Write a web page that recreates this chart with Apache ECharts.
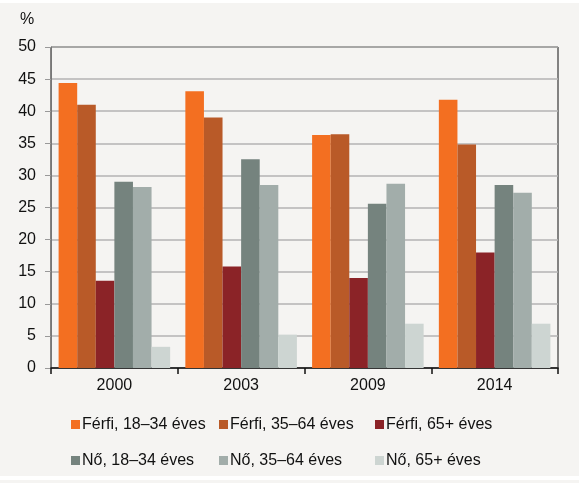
<!DOCTYPE html>
<html>
<head>
<meta charset="utf-8">
<script src="https://cdn.jsdelivr.net/npm/echarts@6/dist/echarts.min.js"></script>
<style>html,body{margin:0;padding:0;background:#f5f4f2;}#c{width:579px;height:483px;}</style>
</head>
<body>
<div id="c"></div>
<script>
var categories = ['2000', '2003', '2009', '2014'];
var seriesNames = ['Férfi, 18–34 éves', 'Férfi, 35–64 éves', 'Férfi, 65+ éves', 'Nő, 18–34 éves', 'Nő, 35–64 éves', 'Nő, 65+ éves'];
var ferfi1834 = [44.4, 43.1, 36.3, 41.8];
var ferfi3564 = [41.0, 39.0, 36.4, 34.8];
var ferfi65 = [13.6, 15.8, 14.0, 18.0];
var no1834 = [29.0, 32.5, 25.6, 28.5];
var no3564 = [28.2, 28.5, 28.7, 27.3];
var no65 = [3.3, 5.2, 6.9, 6.9];
var yTicks = [0, 5, 10, 15, 20, 25, 30, 35, 40, 45, 50];

var colors = ['#f36f21', '#b95a28', '#8b2327', '#75837e', '#a2adaa', '#cdd5d2'];
var values = [ferfi1834, ferfi3564, ferfi65, no1834, no3564, no65];
var FONT = "'Liberation Sans', Arial, sans-serif";

var chart = echarts.init(document.getElementById('c'), null, {renderer: 'canvas'});
var series = seriesNames.map(function (n, i) {
  return {
    name: n, type: 'bar', data: values[i],
    itemStyle: {color: colors[i]},
    barGap: '0%', barCategoryGap: '12%'
  };
});
function legendCol(left, names) {
  return {
    orient: 'vertical', left: left, top: 411,
    data: names, icon: 'rect', itemWidth: 9, itemHeight: 9, itemGap: 19,
    textStyle: {fontFamily: FONT, fontSize: 16, color: '#111', padding: [0, 0, 0, -3], lineHeight: 17},
    selectedMode: false
  };
}
chart.setOption({
  backgroundColor: '#f5f4f2',
  animation: false,
  textStyle: {fontFamily: FONT},
  graphic: [
    {type: 'rect', shape: {x: 0, y: 0, width: 579, height: 3}, style: {fill: '#ffffff'}, silent: true},
    {type: 'rect', shape: {x: 0, y: 476, width: 579, height: 4}, style: {fill: '#ffffff'}, silent: true},
    {type: 'text', left: 20, top: 12, style: {text: '%', font: '16px ' + FONT, fill: '#111'}}
  ],
  legend: [
    legendCol(66, [seriesNames[0], seriesNames[3]]),
    legendCol(214, [seriesNames[1], seriesNames[4]]),
    legendCol(370, [seriesNames[2], seriesNames[5]])
  ],
  grid: {left: 51, right: 21, top: 47, bottom: 115, show: true, borderColor: '#111', borderWidth: 1, containLabel: false},
  xAxis: {
    type: 'category', data: categories,
    axisLine: {lineStyle: {color: '#111', width: 1.5}},
    axisTick: {show: true, length: 6, lineStyle: {color: '#111', width: 1.5}},
    axisLabel: {fontFamily: FONT, fontSize: 16, color: '#111', margin: 10}
  },
  yAxis: {
    type: 'value', min: yTicks[0], max: yTicks[yTicks.length - 1], interval: 5,
    axisLine: {show: true, lineStyle: {color: '#777', width: 1}},
    axisTick: {show: true, length: 6, lineStyle: {color: '#999'}},
    axisLabel: {fontFamily: FONT, fontSize: 16, color: '#111', margin: 15},
    splitLine: {show: true, lineStyle: {color: '#b3b3b3', width: 1.5}}
  },
  series: series
});
</script>
</body>
</html>
